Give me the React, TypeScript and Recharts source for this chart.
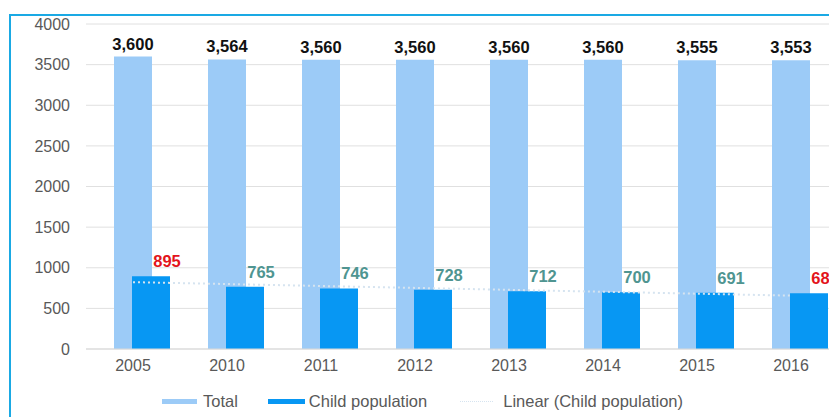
import React from 'react'
import {
  ComposedChart,
  Bar,
  Line,
  XAxis,
  YAxis,
  CartesianGrid,
  LabelList,
  Legend,
  Rectangle,
} from 'recharts'

const YEARS = ['2005', '2010', '2011', '2012', '2013', '2014', '2015', '2016']
const TOTAL = [3600, 3564, 3560, 3560, 3560, 3560, 3555, 3553]
const CHILD = [895, 765, 746, 728, 712, 700, 691, 686]
// linear trend line: only the two ends are drawn
const TREND = [823, null, null, null, null, null, null, 657]
const Y_TICKS = [0, 500, 1000, 1500, 2000, 2500, 3000, 3500, 4000]

const data = YEARS.map((year, i) => ({
  year,
  total: TOTAL[i],
  child: CHILD[i],
  trend: TREND[i],
}))

const FONT = '"Liberation Sans", Arial, sans-serif'
const LIGHT = '#9ccbf7'
const DARK = '#0797f3'
const TREND_COLOR = '#d6e4f0'
const CHILD_SHIFT = 18

// highlight the first and last child values in red
const childColor = (i: number) =>
  i === 0 || i === CHILD.length - 1 ? '#e3141b' : '#4f9591'

const TotalLabel = (props: any) => {
  const { x, y, width, value } = props
  return (
    <text
      x={x + width / 2}
      y={y - 13}
      textAnchor="middle"
      dominantBaseline="central"
      fontSize={16.5}
      fontWeight="bold"
      fill="#111"
      fontFamily={FONT}
    >
      {value.toLocaleString('en-US')}
    </text>
  )
}

const ChildLabel = (props: any) => {
  const { x, y, width, value, index } = props
  return (
    <text
      x={x + width / 2 + 34}
      y={y - 15}
      textAnchor="middle"
      dominantBaseline="central"
      fontSize={16.5}
      fontWeight="bold"
      fill={childColor(index)}
      fontFamily={FONT}
    >
      {value}
    </text>
  )
}

const LegendContent = () => (
  <div
    style={{
      display: 'flex',
      alignItems: 'center',
      fontFamily: FONT,
      fontSize: 16.5,
      color: '#595959',
      paddingLeft: 162,
    }}
  >
    <span style={{ width: 35, height: 5, background: LIGHT, marginRight: 6 }} />
    <span style={{ marginRight: 30 }}>Total</span>
    <span style={{ width: 37, height: 5, background: DARK, marginRight: 4 }} />
    <span style={{ marginRight: 33 }}>Child population</span>
    <span
      style={{
        width: 33,
        height: 0,
        borderTop: `1.5px dotted ${TREND_COLOR}`,
        marginRight: 10,
      }}
    />
    <span>Linear (Child population)</span>
  </div>
)

export default function App() {
  return (
    <div
      style={{
        position: 'fixed',
        left: 0,
        top: 0,
        width: 829,
        height: 417,
        overflow: 'hidden',
        background: '#fff',
      }}
    >
      <div
        style={{
          position: 'absolute',
          left: 9,
          top: 14,
          width: 900,
          height: 500,
          border: '2px solid #1aa9e4',
        }}
      />
      <div style={{ position: 'absolute', left: 0, top: 0 }}>
        <ComposedChart
          width={850}
          height={417}
          data={data}
          margin={{ top: 24, right: 12, left: 0, bottom: 19 }}
          barGap={-38}
        >
          <CartesianGrid vertical={false} stroke="#e0e0e0" />
          <XAxis
            dataKey="year"
            axisLine={{ stroke: '#d9d9d9' }}
            tickLine={false}
            tickMargin={5}
            tick={{ fontSize: 16, fill: '#595959', fontFamily: FONT }}
          />
          <YAxis
            width={86}
            domain={[0, 4000]}
            ticks={Y_TICKS}
            axisLine={false}
            tickLine={false}
            tickMargin={10}
            tick={{ fontSize: 16, fill: '#595959', fontFamily: FONT }}
          />
          <Legend
            verticalAlign="bottom"
            align="left"
            content={<LegendContent />}
            wrapperStyle={{ left: 0, bottom: 6, width: 850 }}
          />
          <Bar
            dataKey="total"
            name="Total"
            fill={LIGHT}
            barSize={38}
            isAnimationActive={false}
          >
            <LabelList dataKey="total" content={<TotalLabel />} />
          </Bar>
          <Bar
            dataKey="child"
            name="Child population"
            fill={DARK}
            barSize={38}
            isAnimationActive={false}
            shape={(p: any) => <Rectangle {...p} x={p.x + CHILD_SHIFT} />}
          >
            <LabelList dataKey="child" content={<ChildLabel />} />
          </Bar>
          <Line
            dataKey="trend"
            name="Linear (Child population)"
            stroke={TREND_COLOR}
            strokeWidth={2}
            strokeDasharray="2 3"
            dot={false}
            connectNulls
            isAnimationActive={false}
          />
        </ComposedChart>
      </div>
    </div>
  )
}
